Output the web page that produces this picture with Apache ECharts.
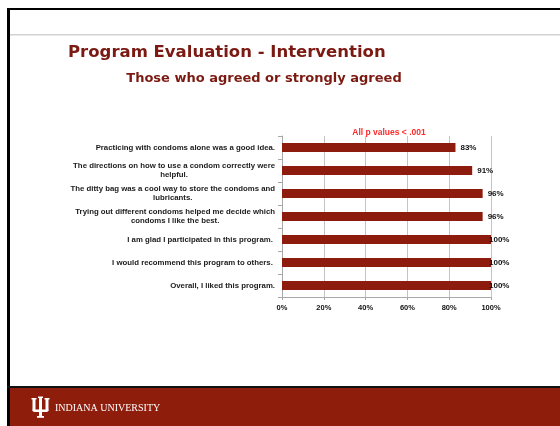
<!DOCTYPE html>
<html>
<head>
<meta charset="utf-8">
<script src="https://cdn.jsdelivr.net/npm/echarts@6/dist/echarts.min.js"></script>
<style>
html,body{margin:0;padding:0;background:#fff;}
#chart{width:560px;height:426px;}
</style>
</head>
<body>
<div id="chart"></div>
<script>
var categories = [
  "Practicing with condoms alone was a good idea.",
  "The directions on how to use a condom correctly were\nhelpful.",
  "The ditty bag was a cool way to store the condoms and\nlubricants.",
  "Trying out different condoms helped me decide which\ncondoms I like the best.",
  "I am glad I participated in this program. ",
  "I would recommend this program to others. ",
  "Overall, I liked this program."
];
var agreedPct = [83, 91, 96, 96, 100, 100, 100];
var xTicks = { min: 0, max: 100, interval: 20 };

var mainTitle = "Program Evaluation - Intervention";
var subTitle = "Those who agreed or strongly agreed";
var note = "All p values < .001";
var footer = "INDIANA UNIVERSITY";

var RED = '#8E1C0E';
var TITLE_RED = '#7B1A12';

var chart = echarts.init(document.getElementById('chart'), null, {renderer: 'canvas'});

var barData = agreedPct.map(function (v) {
  return v >= 100 ? { value: v, label: { distance: -2 } } : v;
});

var option = {
  backgroundColor: '#fff',
  animation: false,
  title: [
    { text: mainTitle, left: 68, top: 44, padding: 0,
      textStyle: { fontFamily: 'DejaVu Sans', fontWeight: 'bold', fontSize: 16.5, color: TITLE_RED } },
    { text: subTitle, left: 264, top: 72, padding: 0, textAlign: 'center',
      textStyle: { fontFamily: 'DejaVu Sans', fontWeight: 'bold', fontSize: 13, color: TITLE_RED } },
    { text: note, left: 389, top: 128.5, padding: 0, textAlign: 'center',
      textStyle: { fontFamily: 'Liberation Sans', fontWeight: 'bold', fontSize: 8.5, color: '#FF2A2A' } }
  ],
  grid: { left: 282, right: 69, top: 136, bottom: 129, containLabel: false },
  xAxis: {
    type: 'value', min: xTicks.min, max: xTicks.max, interval: xTicks.interval,
    axisLine: { show: true, lineStyle: { color: '#a8a8a8', width: 1 } },
    axisTick: { show: true, length: 3, lineStyle: { color: '#a8a8a8' } },
    splitLine: { show: true, lineStyle: { color: '#c4c4c4', width: 1 } },
    axisLabel: { formatter: '{value}%', margin: 7, color: '#111',
      fontFamily: 'Liberation Sans', fontWeight: 'bold', fontSize: 7.5 }
  },
  yAxis: {
    type: 'category', data: categories, inverse: true,
    axisLine: { show: true, lineStyle: { color: '#a8a8a8', width: 1 } },
    axisTick: { show: true, length: 4, alignWithLabel: false, lineStyle: { color: '#a8a8a8' } },
    axisLabel: {
      margin: 7, interval: 0,
      formatter: function (v) {
        return v.split('\n').map(function (l) { return '{c|' + l + '}'; }).join('\n');
      },
      rich: {
        c: { align: 'center', fontFamily: 'Liberation Sans', fontWeight: 'bold',
             fontSize: 7.8, lineHeight: 8.5, color: '#1a1a1a' }
      }
    }
  },
  series: [{
    type: 'bar', data: barData, barWidth: 9,
    itemStyle: { color: RED },
    label: { show: true, position: 'right', distance: 5, formatter: '{c}%',
      fontFamily: 'Liberation Sans', fontWeight: 'bold', fontSize: 8, color: '#111' }
  }],
  graphic: [
    { type: 'rect', shape: { x: 7, y: 8, width: 553, height: 2 }, style: { fill: '#000' }, silent: true },
    { type: 'rect', shape: { x: 7, y: 8, width: 3, height: 418 }, style: { fill: '#000' }, silent: true },
    { type: 'rect', shape: { x: 10, y: 34, width: 550, height: 1.5 }, style: { fill: '#d2d2d2' }, silent: true },
    { type: 'rect', shape: { x: 7, y: 386, width: 553, height: 2 }, style: { fill: '#111' }, silent: true },
    { type: 'rect', shape: { x: 10, y: 388, width: 550, height: 38 }, style: { fill: '#8F1D0C' }, silent: true },
    { type: 'group', silent: true, children: [
      { type: 'rect', shape: { x: 32.5, y: 399, width: 3, height: 12 }, style: { fill: '#fff' } },
      { type: 'rect', shape: { x: 45.5, y: 399, width: 3, height: 12 }, style: { fill: '#fff' } },
      { type: 'rect', shape: { x: 31.5, y: 398, width: 5, height: 1.5 }, style: { fill: '#fff' } },
      { type: 'rect', shape: { x: 44.5, y: 398, width: 5, height: 1.5 }, style: { fill: '#fff' } },
      { type: 'rect', shape: { x: 39, y: 397, width: 3, height: 20 }, style: { fill: '#fff' } },
      { type: 'rect', shape: { x: 38, y: 396.5, width: 5, height: 1.5 }, style: { fill: '#fff' } },
      { type: 'rect', shape: { x: 32.5, y: 409.5, width: 16, height: 2.5, r: [0, 0, 2, 2] }, style: { fill: '#fff' } },
      { type: 'rect', shape: { x: 37, y: 416, width: 7, height: 1.8 }, style: { fill: '#fff' } }
    ]},
    { type: 'text', left: 55, top: 403, silent: true,
      style: { text: footer, fill: '#fff', font: '10px "Liberation Serif"' } }
  ]
};
chart.setOption(option);
</script>
</body>
</html>
